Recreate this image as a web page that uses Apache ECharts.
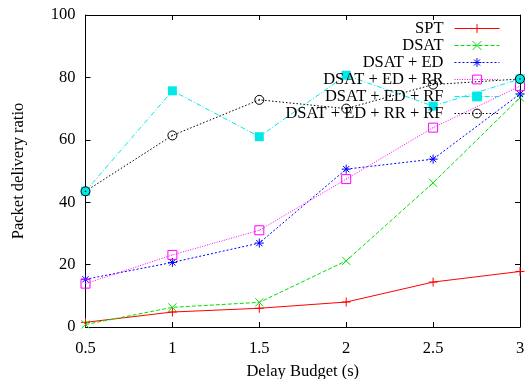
<!DOCTYPE html>
<html>
<head>
<meta charset="utf-8">
<script src="https://cdn.jsdelivr.net/npm/echarts@6/dist/echarts.min.js"></script>
<style>
  html, body { margin: 0; padding: 0; background: #fff; }
  #chart { width: 526px; height: 379px; }
</style>
</head>
<body>
<div id="chart"></div>
<script>
// Delay budgets (s) on the x axis
const delays = [0.5, 1, 1.5, 2, 2.5, 3];

// Packet delivery ratio per scheme
const spt        = [1.5, 4.8, 6.0, 8.0, 14.4, 17.8];
const dsat       = [0.8, 6.3, 7.9, 21.2, 46.2, 73.5];
const dsatEd     = [15.3, 20.7, 26.9, 50.6, 53.8, 74.7];
const dsatEdRr   = [13.9, 23.1, 31.0, 47.4, 63.9, 77.2];
const dsatEdRf   = [43.5, 75.7, 61.0, 80.7, 70.8, 79.5];
const dsatEdRrRf = [43.5, 61.4, 72.8, 70.0, 77.7, 79.5];

const seriesNames = ['SPT', 'DSAT', 'DSAT + ED', 'DSAT + ED + RR', 'DSAT + ED + RF', 'DSAT + ED + RR + RF'];

const FONT = 'Liberation Serif';
const FONT_SIZE = 16.5;

// Point markers drawn as stroked outlines
const SYM_PLUS = 'path://M0,5L10,5M5,0L5,10';
const SYM_CROSS = 'path://M0,0L10,10M10,0L0,10';
const SYM_STAR = 'path://M0,5L10,5M5,0L5,10M1.5,1.5L8.5,8.5M8.5,1.5L1.5,8.5';
const SYM_BOX_DOT = 'path://M0,0L10,0L10,10L0,10Z M4.7,5L5.3,5';
const SYM_CIRCLE_DOT = 'path://M0,5A5,5 0 1 1 10,5A5,5 0 1 1 0,5Z M4.6,5A0.4,0.4 0 1 1 5.4,5A0.4,0.4 0 1 1 4.6,5Z';

function pairs(vals) {
  return delays.map((d, i) => [d, vals[i]]);
}

function lineSeries(name, vals, color, dash, symbol, size, filled) {
  return {
    name: name,
    type: 'line',
    data: pairs(vals),
    symbol: symbol,
    symbolSize: size,
    showAllSymbol: true,
    lineStyle: { color: color, width: 1, type: dash },
    itemStyle: filled
      ? { color: color, borderColor: color, borderWidth: 0 }
      : { color: 'rgba(0,0,0,0)', borderColor: color, borderWidth: 1 },
    emphasis: { disabled: true },
    animation: false,
    z: 2
  };
}

const series = [
  lineSeries(seriesNames[0], spt, '#ff0000', 'solid', SYM_PLUS, 9, false),
  lineSeries(seriesNames[1], dsat, '#00e000', [4, 2], SYM_CROSS, 8, false),
  lineSeries(seriesNames[2], dsatEd, '#0000ff', [2, 2], SYM_STAR, 9, false),
  lineSeries(seriesNames[3], dsatEdRr, '#ff00ff', [1, 1.5], SYM_BOX_DOT, 9, false),
  lineSeries(seriesNames[4], dsatEdRf, '#00e8e8', [5, 2, 1, 2], 'rect', 9, true),
  lineSeries(seriesNames[5], dsatEdRrRf, '#000000', [1.5, 2], SYM_CIRCLE_DOT, 9, false)
];

// One legend block per entry so every sample line ends at the same right edge
const legendTops = [20, 37, 54, 71, 88, 105];
const legends = seriesNames.map((n, i) => ({
  data: [n],
  right: 26,
  top: legendTops[i],
  orient: 'vertical',
  align: 'right',
  padding: 0,
  itemWidth: 45,
  itemHeight: 11,
  selectedMode: false,
  lineStyle: { width: 1 },
  itemStyle: { borderWidth: 1 },
  textStyle: { fontFamily: FONT, fontSize: FONT_SIZE, color: '#000', padding: [0, 6, 0, 0] }
}));

const axisCommonX = {
  type: 'value',
  min: 0.5,
  max: 3,
  interval: 0.5,
  axisLine: { show: true, onZero: false, lineStyle: { color: '#000', width: 1 } },
  axisTick: { show: true, inside: true, length: 5, lineStyle: { color: '#000' } },
  splitLine: { show: false }
};
const axisCommonY = {
  type: 'value',
  min: 0,
  max: 100,
  interval: 20,
  axisLine: { show: true, onZero: false, lineStyle: { color: '#000', width: 1 } },
  axisTick: { show: true, inside: true, length: 5, lineStyle: { color: '#000' } },
  splitLine: { show: false }
};

const option = {
  backgroundColor: '#fff',
  animation: false,
  grid: { left: 85.5, right: 6, top: 15, bottom: 52, containLabel: false, outerBoundsMode: 'none' },
  legend: legends,
  xAxis: [
    Object.assign({}, axisCommonX, {
      position: 'bottom',
      name: 'Delay Budget (s)',
      nameLocation: 'middle',
      nameGap: 36,
      nameTextStyle: { fontFamily: FONT, fontSize: FONT_SIZE, color: '#000' },
      axisLabel: { fontFamily: FONT, fontSize: FONT_SIZE, color: '#000', margin: 13 }
    }),
    Object.assign({}, axisCommonX, {
      position: 'top',
      axisLabel: { show: false }
    })
  ],
  yAxis: [
    Object.assign({}, axisCommonY, {
      position: 'left',
      name: 'Packet delivery ratio',
      nameLocation: 'middle',
      nameGap: 58,
      nameTextStyle: { fontFamily: FONT, fontSize: FONT_SIZE, color: '#000' },
      axisLabel: { fontFamily: FONT, fontSize: FONT_SIZE, color: '#000', margin: 10 }
    }),
    Object.assign({}, axisCommonY, {
      position: 'right',
      axisLabel: { show: false }
    })
  ],
  series: series
};

const chart = echarts.init(document.getElementById('chart'), null, { renderer: 'canvas' });
chart.setOption(option);
</script>
</body>
</html>
